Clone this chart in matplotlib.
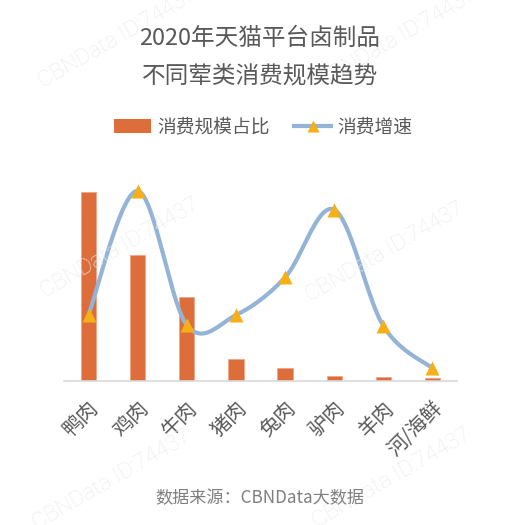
import numpy as np
import matplotlib
matplotlib.use("Agg")
import matplotlib.pyplot as plt
from matplotlib.patches import Patch
from matplotlib.lines import Line2D

plt.rcParams['font.family'] = ['Noto Sans CJK SC', 'DejaVu Sans']

categories = ["鸭肉", "鸡肉", "牛肉", "猪肉", "兔肉", "驴肉", "羊肉", "河/海鲜"]
share = [43.2, 28.8, 19.3, 5.1, 2.9, 1.1, 0.9, 0.75]          # 消费规模占比
growth = [35.0, 100.0, 29.4, 34.7, 54.5, 90.2, 29.0, 6.7]     # 消费增速
title = "2020年天猫平台卤制品\n不同荤类消费规模趋势"
legend_labels = ["消费规模占比", "消费增速"]
source = "数据来源：CBNData大数据"
watermark = "CBNData ID:74437"

BAR_C = "#DD6D3B"
LINE_C = "#93B4D6"
MARK_C = "#F6AF16"
TXT_C = "#595959"

W, H = 518, 525
fig = plt.figure(figsize=(W / 100, H / 100), dpi=100)
fig.patch.set_facecolor("white")

# watermarks
for (cx, cy) in [(118, 38), (398, 38), (120, 248), (385, 252), (112, 480), (392, 478)]:
    fig.text(cx / W, 1 - cy / H, watermark, rotation=30, fontsize=16,
             color="#ebebeb", ha="center", va="center", zorder=0,
             family=["Roboto", "DejaVu Sans"], fontweight="light")

ax = fig.add_axes([64 / W, 1 - 381 / H, (457 - 64) / W, 211 / H])
ax.set_facecolor("none")
x = np.arange(len(categories))
ax.bar(x, share, width=0.31, color=BAR_C, edgecolor="#F0A58A", linewidth=0.6, zorder=2)
ax.set_xlim(-0.5, len(categories) - 0.5)
ax.set_ylim(0, 211 / 4.37)
for s in ["top", "right", "left"]:
    ax.spines[s].set_visible(False)
ax.spines["bottom"].set_color("#d9d9d9")
ax.spines["bottom"].set_linewidth(1.2)
ax.set_yticks([])
ax.set_xticks(x)
ax.set_xticklabels(categories, rotation=45, ha="right", va="top",
                   rotation_mode="anchor", fontsize=14.5, color=TXT_C)
ax.tick_params(axis="x", length=0, pad=12)

ax2 = ax.twinx()
ax2.set_ylim(0, 211 / 1.9)
ax2.axis("off")

# Excel-style smoothed line (cubic Bezier, tension 1/6)
P = np.column_stack([x.astype(float), np.array(growth, float)])
ext = np.vstack([P[0], P, P[-1]])
t = np.linspace(0, 1, 40)[:, None]
curve = []
for i in range(len(P) - 1):
    p0, p3 = ext[i + 1], ext[i + 2]
    b1 = p0 + (ext[i + 2] - ext[i]) / 6
    b2 = p3 - (ext[i + 3] - ext[i + 1]) / 6
    seg = ((1 - t) ** 3) * p0 + 3 * ((1 - t) ** 2) * t * b1 + 3 * (1 - t) * t ** 2 * b2 + t ** 3 * p3
    curve.append(seg)
curve = np.vstack(curve)
ax2.plot(curve[:, 0], curve[:, 1], color=LINE_C, lw=3.0, solid_capstyle="round", zorder=3)
ax2.plot(x, growth, linestyle="none", marker="^", markersize=10, color=MARK_C,
         markeredgecolor="none", zorder=4)

fig.text(260 / W, 1 - 57 / H, title, ha="center", va="center", fontsize=17,
         color=TXT_C, linespacing=1.8)

handles = [Patch(facecolor=BAR_C, edgecolor="none"),
           Line2D([], [], color=LINE_C, lw=3.0, marker="^", markersize=8,
                  markerfacecolor=MARK_C, markeredgecolor="none")]
fig.legend(handles, legend_labels, loc="center", bbox_to_anchor=(263 / W, 1 - 127 / H),
           ncol=2, frameon=False, fontsize=13.5, labelcolor=TXT_C,
           handlelength=2.0, handleheight=0.75, handletextpad=0.3, columnspacing=1.3)

fig.text(260 / W, 1 - 498 / H, source, ha="center", va="center", fontsize=12.3, color="#7f7f7f")

fig.savefig("out.png", dpi=100, facecolor="white")
